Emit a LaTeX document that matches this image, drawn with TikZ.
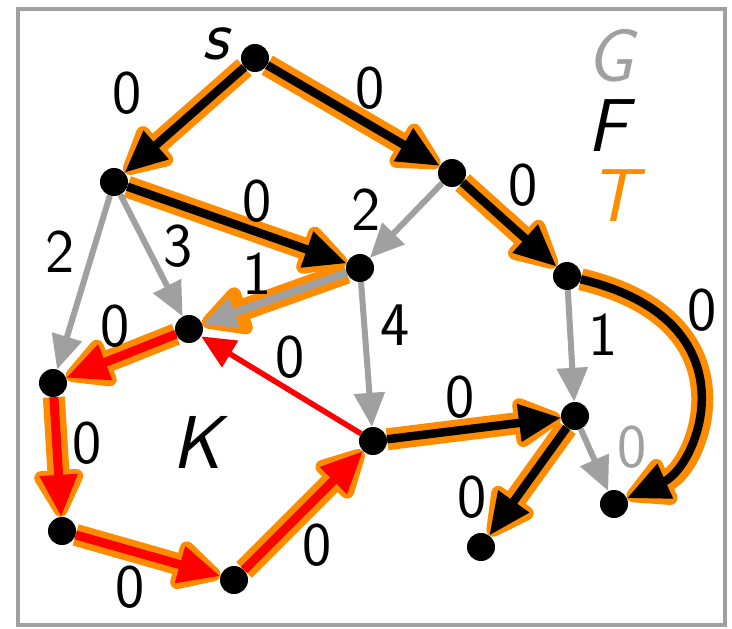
\documentclass[tikz,border=0pt]{standalone}
\usetikzlibrary{arrows.meta}
\definecolor{treeorange}{RGB}{255,140,0}
\definecolor{ggray}{RGB}{160,160,160}
\definecolor{kred}{RGB}{255,0,0}
\tikzset{gp/.style={
  x=1pt,
  y=-1pt
}}
\tikzset{vtx/.style={
  circle,
  inner sep=0pt,
  minimum size=28pt,
}}
\tikzset{halo/.style={draw=treeorange,line width=22pt,line join=round,
  -{Triangle[length=56pt,width=54pt,round]}}}
\tikzset{fedge/.style={draw=black,line width=8.5pt,-{Triangle[length=42pt,width=36pt]}}}
\tikzset{gedge/.style={draw=ggray,line width=6pt,-{Triangle[length=34pt,width=30pt]}}}
\tikzset{gtedge/.style={gedge,line width=8pt}}
\tikzset{kedge/.style={draw=kred,line width=9pt,-{Triangle[length=42pt,width=36pt]}}}
\tikzset{kthin/.style={kedge,line width=5.5pt,-{Triangle[length=34pt,width=30pt]}}}
\tikzset{wlab/.style={font=\sffamily\fontsize{62}{62}\selectfont,inner sep=0pt}}
\tikzset{lgd/.style={font=\sffamily\itshape\fontsize{75}{75}\selectfont,inner sep=0pt}}

\begin{document}
\begin{tikzpicture}[gp]
    \useasboundingbox (0,0) rectangle (732,629);
    % Frame
    \draw[ggray,line width=4pt] (18,9) rectangle (725,625);

    % Vertices
    \node[vtx] (s) at (255,58) {};
    \node[vtx] (a) at (114,182) {};
    \node[vtx] (b) at (452,173) {};
    \node[vtx] (c) at (360,268) {};
    \node[vtx] (d) at (189,329) {};
    \node[vtx] (e) at (53,383) {};
    \node[vtx] (f) at (567,276) {};
    \node[vtx] (g) at (373,441) {};
    \node[vtx] (h) at (575,416) {};
    \node[vtx] (i) at (62,531) {};
    \node[vtx] (j) at (234,580) {};
    \node[vtx] (k) at (614,504) {};
    \node[vtx] (l) at (481,547) {};

    % T (orange halo)
    \draw[halo] (s) -- (a);
    \draw[halo] (s) -- (b);
    \draw[halo] (b) -- (f);
    \draw[halo] (a) -- (c);
    \draw[halo] (c) -- (d);
    \draw[halo] (d) -- (e);
    \draw[halo] (e) -- (i);
    \draw[halo] (i) -- (j);
    \draw[halo] (j) -- (g);
    \draw[halo] (g) -- (h);
    \draw[halo] (h) -- (l);
    \draw[halo] (f) .. controls +(190,45) and +(85,-38) .. (k);

    % G (gray)
    \draw[gedge] (b) -- (c);
    \draw[gedge] (a) -- (e);
    \draw[gedge] (a) -- (d);
    \draw[gtedge] (c) -- (d);
    \draw[gedge] (c) -- (g);
    \draw[gedge] (f) -- (h);
    \draw[gedge] (h) -- (k);

    % F (black)
    \draw[fedge] (s) -- (a);
    \draw[fedge] (s) -- (b);
    \draw[fedge] (b) -- (f);
    \draw[fedge] (a) -- (c);
    \draw[fedge] (g) -- (h);
    \draw[fedge] (h) -- (l);
    \draw[fedge] (f) .. controls +(190,45) and +(85,-38) .. (k);

    % K (red)
    \draw[kedge] (d) -- (e);
    \draw[kedge] (e) -- (i);
    \draw[kedge] (i) -- (j);
    \draw[kedge] (j) -- (g);
    \draw[kthin] (g) -- (d);

    \foreach \v in {s,a,b,c,d,e,f,g,h,i,j,k,l}
      \fill (\v) circle (14pt);

    % Weights
    \node[wlab] (w-sa) at (127,93) {0};
    \node[wlab] (w-sb) at (370,88) {0};
    \node[wlab] (w-bf) at (523,185) {0};
    \node[wlab] (w-ac) at (257,201) {0};
    \node[wlab] (w-bc) at (366,210) {2};
    \node[wlab] (w-ae) at (60,252) {2};
    \node[wlab] (w-ad) at (178,246) {3};
    \node[wlab] (w-cd) at (257,274) {1};
    \node[wlab] (w-de) at (115,326) {0};
    \node[wlab] (w-gd) at (290,357) {0};
    \node[wlab] (w-ei) at (87,443) {0};
    \node[wlab] (w-ij) at (130,587) {0};
    \node[wlab] (w-jg) at (317,545) {0};
    \node[wlab] (w-cg) at (395,325) {4};
    \node[wlab] (w-gh) at (460,397) {0};
    \node[wlab] (w-fh) at (603,335) {1};
    \node[wlab,ggray] (w-hk) at (632,447) {0};
    \node[wlab] (w-hl) at (472,497) {0};
    \node[wlab] (w-fk) at (702,310) {0};

    % Names
    \node[font=\sffamily\itshape\fontsize{72}{72}\selectfont,inner sep=0pt] (s-lab) at (215,44) {s};
    \node[lgd] (k-lab) at (197,442) {K};
    \node[lgd,ggray] (g-lab) at (610,56) {G};
    \node[lgd] (f-lab) at (608,126) {F};
    \node[lgd,treeorange] (t-lab) at (614,196) {T};
\end{tikzpicture}
\end{document}
